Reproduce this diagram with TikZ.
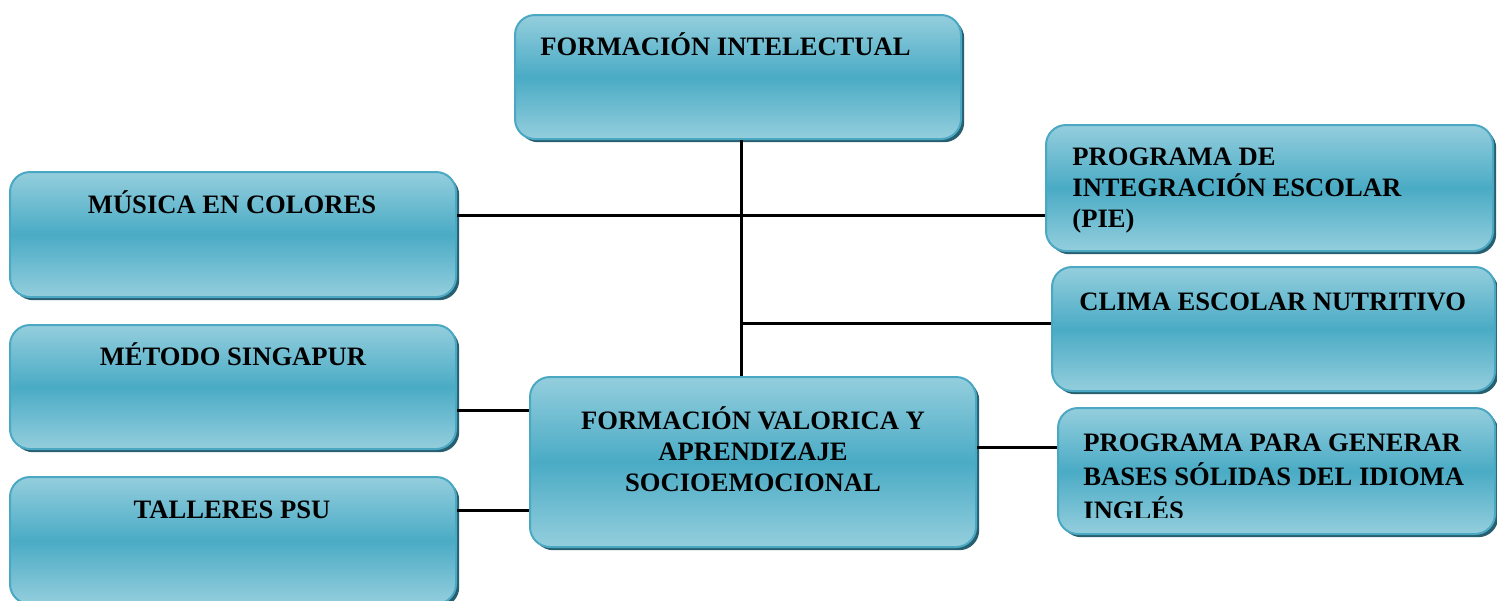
\documentclass[tikz,border=0pt]{standalone}
\usepackage{fontspec}
\setmainfont{Liberation Serif}
\usetikzlibrary{shadows}
\definecolor{boxlight}{HTML}{94CEDD}
\definecolor{boxmid}{HTML}{4AABC5}
\definecolor{boxedge}{HTML}{4BA8C3}
\definecolor{boxshadow}{HTML}{275F70}
\tikzset{
  box/.style={rectangle, rounded corners=10pt, draw=boxedge, line width=1pt,
    top color=boxlight, bottom color=boxlight, middle color=boxmid,
    inner sep=0pt,
    drop shadow={shadow xshift=1.6pt, shadow yshift=-1.6pt, fill=boxshadow, opacity=1}},
  lbl/.style={font=\fontsize{13.3pt}{15.5pt}\selectfont\bfseries, inner sep=0pt, text=black},
  conn/.style={line width=1.5pt, draw=black}
}
\newcommand{\mkbox}[5]{%
  \node[box, minimum width={(#4-#2)*0.5pt}, minimum height={(#5-#3)*0.5pt}]
    (#1) at ({(#2+#4)/2},{(#3+#5)/2}) {};}
\begin{document}
\begin{tikzpicture}[x=0.5pt,y=-0.5pt]
\useasboundingbox (0,0) rectangle (1497,600);
% boxes
\mkbox{fi}{515}{15}{961}{139}
\mkbox{mc}{10}{172}{456}{297}
\mkbox{ms}{10}{325}{456}{449}
\mkbox{tp}{10}{477}{456}{604}
\mkbox{fv}{530}{377}{976}{547}
\mkbox{pie}{1046}{125}{1493}{251}
\mkbox{cen}{1052}{267}{1495}{391}
\mkbox{ppg}{1058}{408}{1495}{534}
% connectors
\coordinate (jmid) at (741,323);
\draw[conn] (fi.south -| 741,0) -- (fv.north -| 741,0);
\draw[conn] (mc.east |- 0,215) -- (pie.west |- 0,215);
\draw[conn] (jmid) -- (cen.west |- jmid);
\draw[conn] (ms.east |- 0,410) -- (fv.west |- 0,410);
\draw[conn] (tp.east |- 0,510) -- (fv.west |- 0,510);
\draw[conn] (fv.east |- 0,447) -- (ppg.west |- 0,447);
% labels
\node[lbl, anchor=base west] (tfi) at (540,55) {FORMACIÓN INTELECTUAL};
\node[lbl, anchor=base] (tmc) at (232,213) {MÚSICA EN COLORES};
\node[lbl, anchor=base] (tms) at (233,365) {MÉTODO SINGAPUR};
\node[lbl, anchor=base] (ttp) at (232,518) {TALLERES PSU};
\node[lbl, anchor=base, align=center] (tfv) at (753,491) {FORMACIÓN VALORICA Y\\APRENDIZAJE\\SOCIOEMOCIONAL};
\node[lbl, anchor=base west, align=left] (tpie) at (1072,227) {PROGRAMA DE\\INTEGRACIÓN ESCOLAR\\(PIE)};
\node[lbl, anchor=base west] (tcen) at (1079,310) {CLIMA ESCOLAR NUTRITIVO};
\begin{scope}
\clip (1058,408) rectangle (1497,517);
\node[lbl, anchor=base west, align=left, font=\fontsize{13.3pt}{17pt}\selectfont\bfseries] (tppg) at (1083,519) {PROGRAMA PARA GENERAR\\BASES SÓLIDAS DEL IDIOMA\\INGLÉS};
\end{scope}
\end{tikzpicture}
\end{document}
